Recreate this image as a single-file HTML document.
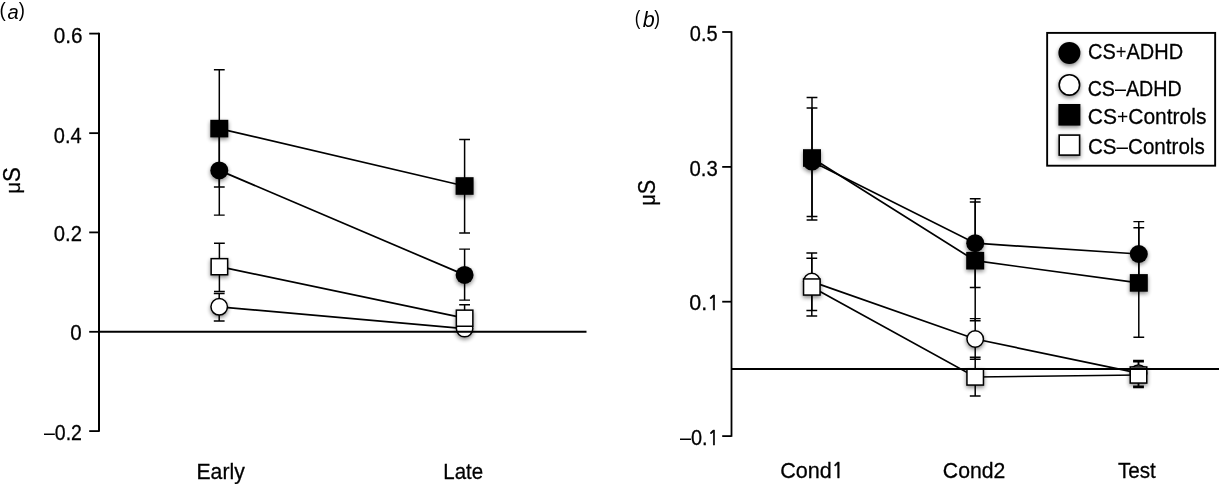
<!DOCTYPE html>
<html lang="en"><head><meta charset="utf-8"><title>Figure</title>
<style>
html,body{margin:0;padding:0;background:#fff;}
body{width:1219px;height:484px;overflow:hidden;position:relative;}
svg{position:absolute;left:0;top:0;display:block;}
text{font-family:"Liberation Sans", sans-serif;fill:#000;stroke:#000;stroke-width:0.28px;}
text.ns,tspan.ns{stroke:none;}
tspan.mu{font-size:0.9em;}
tspan.plus{font-size:0.92em;stroke:none;}
tspan.one{font-family:"NanumGothic","Liberation Sans",sans-serif;stroke-width:0.65px;font-size:0.925em;}
.eb{stroke:#000;stroke-width:1.5;fill:none;}
.cp{stroke:#000;stroke-width:1.45;fill:none;}
.ln{stroke:#000;stroke-width:1.7;fill:none;}
.ax{stroke:#000;stroke-width:2.0;fill:none;}
.axb{stroke:#000;stroke-width:1.8;fill:none;}
.tk{stroke:#000;stroke-width:1.8;fill:none;}
.mf{fill:#000;stroke:none;}
.mo{fill:#fff;stroke:#000;}
</style></head><body>
<svg width="1219" height="484" viewBox="0 0 1219 484">
<defs>
<filter id="sh" x="-50%" y="-50%" width="200%" height="200%">
<feGaussianBlur in="SourceAlpha" stdDeviation="2.0"/>
<feOffset dx="0.4" dy="2.0"/>
<feComponentTransfer><feFuncA type="linear" slope="0.48"/></feComponentTransfer>
<feMerge><feMergeNode/><feMergeNode in="SourceGraphic"/></feMerge>
</filter>
</defs>
<rect width="1219" height="484" fill="#fff"/>

<g id="panel-a">
<text id="a_p1" class="ns" transform="translate(-0.51 17.47) scale(0.9497 1)" font-size="19.81">(</text>
<text id="a_l" class="ns" font-style="italic" transform="translate(7.50 18.62) scale(0.9967 1)" font-size="20.25">a</text>
<text id="a_p2" class="ns" transform="translate(18.72 17.47) scale(0.9359 1)" font-size="19.81">)</text>
<path d="M99.0 32.85V431.85" class="ax"/>
<path d="M89.2 33.6H99.0" class="tk"/>
<text id="a_t0" transform="translate(53.71 43.21) scale(0.9538 1)" font-size="21.7">0.6</text>
<path d="M89.2 133.15H99.0" class="tk"/>
<text id="a_t1" transform="translate(53.83 143.07) scale(0.9211 1)" font-size="21.7">0.4</text>
<path d="M89.2 232.4H99.0" class="tk"/>
<text id="a_t2" transform="translate(53.83 241.38) scale(0.9327 1)" font-size="21.7">0.2</text>
<path d="M89.2 331.8H99.0" class="tk"/>
<text id="a_t3" transform="translate(70.33 340.28) scale(0.9468 1)" font-size="21.7">0</text>
<path d="M89.2 431.1H99.0" class="tk"/>
<text id="a_t4" transform="translate(43.94 439.92) scale(0.9005 1)" font-size="21.7"><tspan class="ns">–</tspan>0.2</text>
<text id="a_mu" transform="translate(19.70 193.40) rotate(-90) scale(0.9414 1)" font-size="23.5"><tspan class="mu">μ</tspan>S</text>
<path d="M219.3 126.3V215.1" class="eb"/><path d="M213.9 126.3H224.7M213.9 215.1H224.7" class="cp"/>
<path d="M464.6 249.1V300.1" class="eb"/><path d="M459.2 249.1H470.0M459.2 300.1H470.0" class="cp"/>
<path d="M219.2 293.4V321.0" class="eb"/><path d="M213.8 293.4H224.6M213.8 321.0H224.6" class="cp"/>
<path d="M464.6 323.0V334.0" class="eb"/><path d="M459.2 323.0H470.0M459.2 334.0H470.0" class="cp"/>
<path d="M219.3 69.7V187.0" class="eb"/><path d="M213.9 69.7H224.7M213.9 187.0H224.7" class="cp"/>
<path d="M464.6 139.5V232.9" class="eb"/><path d="M459.2 139.5H470.0M459.2 232.9H470.0" class="cp"/>
<path d="M219.4 243.3V291.5" class="eb"/><path d="M214.0 243.3H224.8M214.0 291.5H224.8" class="cp"/>
<path d="M464.6 304.7V332.1" class="eb"/><path d="M459.2 304.7H470.0M459.2 332.1H470.0" class="cp"/>
<path d="M219.3 170.4L464.6 274.9" class="ln"/>
<path d="M219.2 306.8L464.6 328.6" class="ln"/>
<path d="M219.3 128.6L464.6 186.0" class="ln"/>
<path d="M219.4 266.7L464.6 318.2" class="ln"/>
<g filter="url(#sh)">
<circle cx="219.3" cy="170.4" r="9.00" class="mf"/>
<circle cx="464.6" cy="274.9" r="9.00" class="mf"/>
<circle cx="219.2" cy="306.8" r="8.25" class="mo" stroke-width="1.5"/>
<circle cx="464.6" cy="328.6" r="8.25" class="mo" stroke-width="1.5"/>
<rect x="210.3" y="119.8" width="18.0" height="17.6" class="mf"/>
<rect x="455.6" y="177.2" width="18.0" height="17.6" class="mf"/>
<rect x="211.15" y="258.65" width="16.50" height="16.10" class="mo" stroke-width="1.5"/>
<rect x="456.35" y="310.15" width="16.50" height="16.10" class="mo" stroke-width="1.5"/>
</g>
<path d="M99.0 331.8H586.5" class="ax"/>
<text id="a_x0" transform="translate(196.48 478.80) scale(0.9547 1)" font-size="22.2">Early</text>
<text id="a_x1" transform="translate(443.32 478.80) scale(0.9235 1)" font-size="22.2">Late</text>
</g>
<g id="panel-b">
<text id="b_p1" class="ns" transform="translate(634.71 25.13) scale(0.8486 1)" font-size="19.81">(</text>
<text id="b_l" class="ns" font-style="italic" transform="translate(642.77 26.80) scale(0.9952 1)" font-size="21.65">b</text>
<text id="b_p2" class="ns" transform="translate(654.33 25.13) scale(0.8723 1)" font-size="19.81">)</text>
<path d="M731.5 31.25V436.85" class="axb"/>
<path d="M722.2 32.0H731.5" class="tk"/>
<text id="b_t0" transform="translate(689.77 41.24) scale(0.9227 1)" font-size="21.7">0.5</text>
<path d="M722.2 166.9H731.5" class="tk"/>
<text id="b_t1" transform="translate(689.44 175.62) scale(0.9364 1)" font-size="21.7">0.3</text>
<path d="M722.2 301.7H731.5" class="tk"/>
<text id="b_t2" transform="translate(689.27 309.59) scale(0.9898 1)" font-size="21.7">0.<tspan class="one">1</tspan></text>
<path d="M722.2 436.1H731.5" class="tk"/>
<text id="b_t3" transform="translate(679.94 444.63) scale(0.9183 1)" font-size="21.7"><tspan class="ns">–</tspan>0.<tspan class="one">1</tspan></text>
<text id="b_mu" transform="translate(654.60 205.40) rotate(-90) scale(0.9194 1)" font-size="23.5"><tspan class="mu">μ</tspan>S</text>
<path d="M812.0 108.0V216.4" class="eb"/><path d="M806.6 108.0H817.4M806.6 216.4H817.4" class="cp"/>
<path d="M975.2 198.7V287.4" class="eb"/><path d="M969.8 198.7H980.6M969.8 287.4H980.6" class="cp"/>
<path d="M1138.8 221.6V286.9" class="eb"/><path d="M1133.4 221.6H1144.2M1133.4 286.9H1144.2" class="cp"/>
<path d="M811.8 252.9V310.4" class="eb"/><path d="M806.4 252.9H817.2M806.4 310.4H817.2" class="cp"/>
<path d="M975.2 318.6V359.2" class="eb"/><path d="M969.8 318.6H980.6M969.8 359.2H980.6" class="cp"/>
<path d="M1138.5 360.5V386.2" class="eb"/><path d="M1133.1 360.5H1143.9M1133.1 386.2H1143.9" class="cp"/>
<path d="M812.0 97.5V219.9" class="eb"/><path d="M806.6 97.5H817.4M806.6 219.9H817.4" class="cp"/>
<path d="M975.2 202.0V320.7" class="eb"/><path d="M969.8 202.0H980.6M969.8 320.7H980.6" class="cp"/>
<path d="M1138.8 227.8V337.3" class="eb"/><path d="M1133.4 227.8H1144.2M1133.4 337.3H1144.2" class="cp"/>
<path d="M811.8 258.3V316.0" class="eb"/><path d="M806.4 258.3H817.2M806.4 316.0H817.2" class="cp"/>
<path d="M975.2 357.3V395.9" class="eb"/><path d="M969.8 357.3H980.6M969.8 395.9H980.6" class="cp"/>
<path d="M1138.5 361.8V387.4" class="eb"/><path d="M1133.1 361.8H1143.9M1133.1 387.4H1143.9" class="cp"/>
<path d="M812.0 161.6L975.2 243.2L1138.8 254.0" class="ln"/>
<path d="M811.8 281.6L975.2 339.0L1138.5 373.2" class="ln"/>
<path d="M812.0 158.0L975.2 260.7L1138.8 282.9" class="ln"/>
<path d="M811.8 287.0L975.2 377.0L1138.5 375.0" class="ln"/>
<g filter="url(#sh)">
<circle cx="812.0" cy="161.6" r="9.00" class="mf"/>
<circle cx="975.2" cy="243.2" r="9.00" class="mf"/>
<circle cx="1138.8" cy="254.0" r="9.00" class="mf"/>
<circle cx="811.8" cy="281.6" r="8.25" class="mo" stroke-width="1.5"/>
<circle cx="975.2" cy="339.0" r="8.25" class="mo" stroke-width="1.5"/>
<circle cx="1138.5" cy="373.2" r="8.25" class="mo" stroke-width="1.5"/>
<rect x="803.0" y="149.2" width="18.0" height="17.6" class="mf"/>
<rect x="966.2" y="251.9" width="18.0" height="17.6" class="mf"/>
<rect x="1129.8" y="274.1" width="18.0" height="17.6" class="mf"/>
<rect x="803.55" y="278.95" width="16.50" height="16.10" class="mo" stroke-width="1.5"/>
<rect x="966.95" y="368.95" width="16.50" height="16.10" class="mo" stroke-width="1.5"/>
<rect x="1130.25" y="366.95" width="16.50" height="16.10" class="mo" stroke-width="1.5"/>
</g>
<path d="M731.5 368.9H1219" class="ax"/>
<text id="b_x0" transform="translate(780.21 478.30) scale(0.9735 1)" font-size="22.2">Cond<tspan class="one">1</tspan></text>
<text id="b_x1" transform="translate(942.82 478.30) scale(0.9557 1)" font-size="22.2">Cond2</text>
<text id="b_x2" transform="translate(1117.89 478.30) scale(0.9313 1)" font-size="22.2">Test</text>
<rect x="1047.15" y="32.9" width="168.0" height="132.8" fill="#fff" stroke="#000" stroke-width="1.9"/>
<g filter="url(#sh)">
<circle cx="1069.4" cy="52.9" r="11.00" class="mf"/>
<circle cx="1069.4" cy="84.9" r="10.20" class="mo" stroke-width="1.6"/>
<rect x="1058.4" y="104.0" width="22.0" height="21.6" class="mf"/>
<rect x="1059.20" y="135.10" width="20.40" height="20.00" class="mo" stroke-width="1.6"/>
</g>
<text id="l0" transform="translate(1087.99 59.10) scale(0.9256 1)" font-size="21.6">CS<tspan class="plus">+</tspan>ADHD</text>
<text id="l1" transform="translate(1087.65 96.20) scale(0.9120 1)" font-size="21.6">CS<tspan class="ns">–</tspan>ADHD</text>
<text id="l2" transform="translate(1087.76 123.60) scale(0.9727 1)" font-size="21.6">CS<tspan class="plus">+</tspan>Controls</text>
<text id="l3" transform="translate(1087.99 154.40) scale(0.9533 1)" font-size="21.6">CS<tspan class="ns">–</tspan>Controls</text>
</g>
</svg>
</body></html>
